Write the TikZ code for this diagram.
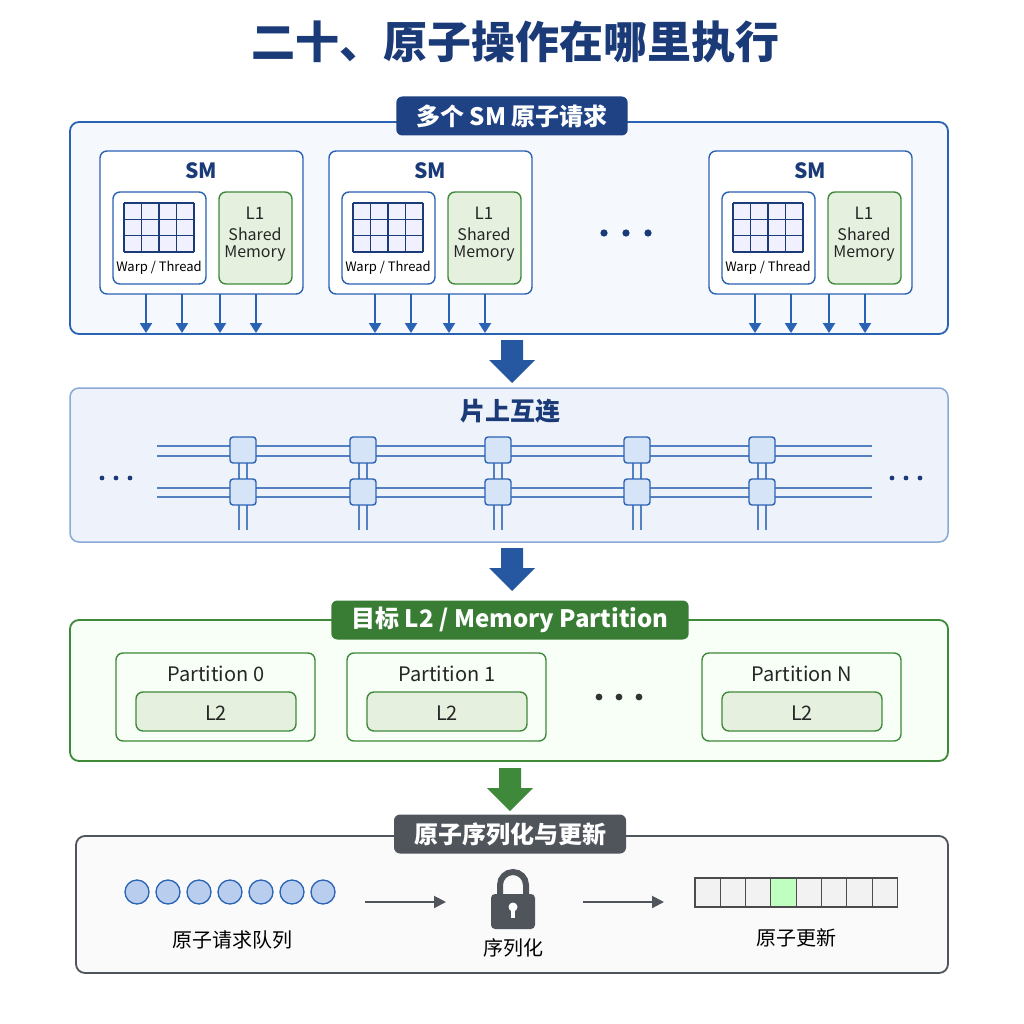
\documentclass[tikz,border=0pt]{standalone}
\usepackage{fontspec}
\setmainfont{Noto Sans CJK SC}
\usepackage{tikz}
\usetikzlibrary{positioning,arrows.meta}
\definecolor{navy}{HTML}{1B3A78}
\definecolor{bluebd}{HTML}{2A62B4}
\definecolor{bluefill}{HTML}{F5F8FD}
\definecolor{nocfill}{HTML}{EEF3FB}
\definecolor{swfill}{HTML}{D6E4F7}
\definecolor{qfill}{HTML}{B9CDEF}
\definecolor{greenbd}{HTML}{3F8A3A}
\definecolor{greenfill}{HTML}{E5F1DE}
\definecolor{graybd}{HTML}{50555C}
\tikzset{
	panel/.style={draw, rounded corners=9pt, line width=1.8pt},
	tab/.style={rounded corners=6pt, text=white, font=\bfseries\fontsize{24}{24}\selectfont, inner xsep=20pt, minimum height=39pt},
	smbox/.style={draw=bluebd, fill=white, rounded corners=7pt, line width=1.4pt},
	lbox/.style={draw=greenbd, fill=greenfill, rounded corners=7pt, line width=1.4pt},
	sw/.style={draw=bluebd, fill=swfill, rounded corners=3pt, line width=1.4pt, minimum size=26pt, inner sep=0pt},
	dn/.style={-{Triangle[length=10pt,width=12pt]}, bluebd, line width=2.2pt},
	bigarrow/.style={fill=#1, draw=none},
	txt/.style={font=\fontsize{#1}{#1}\selectfont}
}
\begin{document}
\begin{tikzpicture}[x=1pt, y=-1pt]
	\fill[white] (0,0) rectangle (1024,1024);
	\node[text=navy, font=\bfseries\fontsize{44}{44}\selectfont] (title) at (515,42) {二十、原子操作在哪里执行};

	% SM panel
	\draw[panel, draw=bluebd, fill=bluefill] (70,122) rectangle (948,334);
	\node[tab, fill=navy!80!bluebd] (tabsm) at (512,116) {多个 SM 原子请求};
	\foreach \x/\n in {100/a, 329/b, 709/c}{
		\draw[smbox] (\x,151) rectangle ++(203,143);
		\node[text=navy, font=\bfseries\fontsize{21}{21}\selectfont] (sm\n) at (\x+101,171) {SM};
		\draw[smbox] (\x+13,192) rectangle ++(93,92);
		\draw[lbox] (\x+119,192) rectangle ++(73,92);
		\fill[blue!6!white] (\x+24,203) rectangle ++(70,49);
		\foreach \k in {0,...,4}
			\draw[navy, line width=1.2pt] (\x+24+17.5*\k,203) -- ++(0,49);
		\foreach \k in {0,...,3}
			\draw[navy, line width=1.2pt] (\x+24,203+16.33*\k) -- ++(70,0);
		\node[txt=13] (wt\n) at (\x+59,268) {Warp / Thread};
		\node[txt=17, text=black!85] (l1\n) at (\x+155,213) {L1};
		\node[txt=16, text=black!85] (sh\n) at (\x+155,234) {Shared};
		\node[txt=16, text=black!85] (me\n) at (\x+155,254) {Memory};
		\foreach \d in {46, 82, 120, 156}
			\draw[dn] (\x+\d,294) -- (\x+\d,333);
	}
	\foreach \x in {604,626,648}
		\fill[navy] (\x,233) circle (3.6pt);

	\fill[bigarrow=bluebd!90!black] (501,340) -- (523,340) -- (523,360) -- (535,360) -- (512,383) -- (489,360) -- (501,360) -- cycle;

	% interconnect
	\draw[panel, draw=bluebd!55, fill=nocfill, line width=1.5pt] (70,388) rectangle (948,542);
	\node[text=navy, font=\bfseries\fontsize{25}{25}\selectfont] (noc) at (510,411) {片上互连};
	\foreach \y in {446,456,488,497}
		\draw[bluebd!80, line width=1.3pt] (157,\y) -- (872,\y);
	\foreach \x [count=\i] in {243,363,498,637,762}{
		\foreach \dx in {-4,4}
			\draw[bluebd!80, line width=1.3pt] (\x+\dx,450) -- (\x+\dx,530);
		\node[sw] (up\i) at (\x,450) {};
		\node[sw] (lo\i) at (\x,492) {};
	}
	\foreach \x in {102,116,130,892,906,920}
		\fill[navy] (\x,478) circle (2.4pt);

	\fill[bigarrow=bluebd!90!black] (501,548) -- (523,548) -- (523,568) -- (535,568) -- (512,591) -- (489,568) -- (501,568) -- cycle;

	% L2 partitions
	\draw[panel, draw=greenbd, fill=green!3!white] (70,620) rectangle (948,761);
	\node[tab, fill=greenbd!90!black] (tabl2) at (510,620) {目标 L2 / Memory Partition};
	\foreach \x/\t in {116/0, 347/1, 702/N}{
		\draw[lbox, fill=green!3!white] (\x,653) rectangle ++(199,88);
		\node[txt=20, text=black!85] (p\t) at (\x+100,674) {Partition \t};
		\draw[lbox] (\x+20,692) rectangle ++(160,39);
		\node[txt=20, text=black!85] (l2\t) at (\x+100,713) {L2};
	}
	\foreach \x in {599,619,639}
		\fill[black!80] (\x,697) circle (3.4pt);

	\fill[bigarrow=greenbd] (499,768) -- (521,768) -- (521,788) -- (533,788) -- (510,811) -- (487,788) -- (499,788) -- cycle;

	% serialization
	\draw[panel, draw=graybd, fill=black!2] (76,836) rectangle (948,973);
	\node[tab, fill=graybd] (tabser) at (510,834) {原子序列化与更新};
	\foreach \i in {0,...,6}
		\draw[bluebd, fill=qfill, line width=1.3pt] (137+31*\i,892) circle (12pt);
	\node[txt=20] (queue) at (232,940) {原子请求队列};
	\coordinate (qa) at (365,902);
	\coordinate (qb) at (446,902);
	\draw[-{Triangle[length=12pt,width=12pt]}, graybd, line width=2pt] (qa) -- (qb);
	% lock
	\draw[graybd, line width=6pt] (500,898) -- (500,885) arc (180:0:13pt) -- (526,898);
	\fill[graybd, rounded corners=4pt] (491,894) rectangle (535,929);
	\fill[white] (513,907) circle (4.5pt);
	\fill[white] (511,908) rectangle (515,918);
	\node[txt=20] (serial) at (513,948) {序列化};
	\coordinate (ua) at (583,902);
	\coordinate (ub) at (664,902);
	\draw[-{Triangle[length=12pt,width=12pt]}, graybd, line width=2pt] (ua) -- (ub);
	\foreach \i in {0,...,7}{
		\ifnum\i=3
			\draw[black!70, fill=green!25!white, line width=1.1pt] (695+25.3*\i,878) rectangle ++(25.3,29);
		\else
			\draw[black!70, fill=black!5, line width=1.1pt] (695+25.3*\i,878) rectangle ++(25.3,29);
		\fi
	}
	\node[txt=20] (upd) at (796,938) {原子更新};
\end{tikzpicture}
\end{document}
